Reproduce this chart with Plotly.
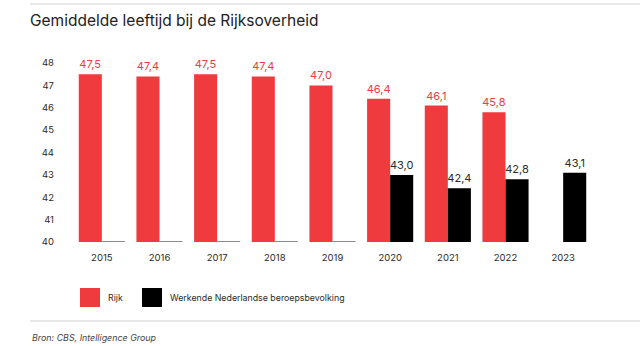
import plotly.graph_objects as go

years = ["2015", "2016", "2017", "2018", "2019", "2020", "2021", "2022", "2023"]
rijk = [47.5, 47.4, 47.5, 47.4, 47.0, 46.4, 46.1, 45.8, None]
werkend = [None, None, None, None, None, 43.0, 42.4, 42.8, 43.1]
y_ticks = [40, 41, 42, 43, 44, 45, 46, 47, 48]
BASE = 40

RED = "#EF3A3E"
BLACK = "#000000"
TXT = "#2b2b2b"
FONT = "Inter"

W, H = 640, 346
L, R, T, B = 73, 48, 63, 104


def px(x):
    return (x - L) / (W - L - R)


def py(y):
    return 1 - (y - T) / (H - T - B)


def fmt(v):
    return "" if v is None else f"{v:.1f}".replace(".", ",")


# heights above base; missing black values shown as a thin gray baseline
rijk_h = [None if v is None else v - BASE for v in rijk]
werk_h = [0.04 if v is None else v - BASE for v in werkend]
werk_col = ["#8a8a8a" if v is None else BLACK for v in werkend]

fig = go.Figure()
fig.add_bar(
    x=years, y=rijk_h, base=BASE, name="Rijk",
    marker=dict(color=RED, line=dict(width=0)),
    text=[fmt(v) for v in rijk], textposition="outside",
    textfont=dict(color=RED, size=11, family=FONT),
    cliponaxis=False, constraintext="none", showlegend=False,
)
fig.add_bar(
    x=years, y=werk_h, base=BASE, name="Werkende Nederlandse beroepsbevolking",
    marker=dict(color=werk_col, line=dict(width=0)),
    text=[fmt(v) for v in werkend], textposition="outside",
    textfont=dict(color=TXT, size=11, family=FONT),
    cliponaxis=False, constraintext="none", showlegend=False,
)

shapes = [
    dict(type="line", xref="paper", yref="paper", x0=px(30), x1=px(640), y0=py(4), y1=py(4),
         line=dict(color="#d0d0d0", width=1)),
    dict(type="line", xref="paper", yref="paper", x0=px(30), x1=px(640), y0=py(321), y1=py(321),
         line=dict(color="#d0d0d0", width=1)),
    dict(type="rect", xref="paper", yref="paper", x0=px(80), x1=px(100), y0=py(307), y1=py(288),
         fillcolor=RED, line=dict(width=0)),
    dict(type="rect", xref="paper", yref="paper", x0=px(142), x1=px(162), y0=py(307), y1=py(288),
         fillcolor=BLACK, line=dict(width=0)),
]
annotations = [
    dict(text="Rijk", xref="paper", yref="paper", x=px(106), y=py(297.5), xanchor="left",
         yanchor="middle", showarrow=False, font=dict(size=8.8, color=TXT, family=FONT)),
    dict(text="Werkende Nederlandse beroepsbevolking", xref="paper", yref="paper", x=px(168),
         y=py(297.5), xanchor="left", yanchor="middle", showarrow=False,
         font=dict(size=8.8, color=TXT, family=FONT)),
    dict(text="<i>Bron: CBS, Intelligence Group</i>", xref="paper", yref="paper", x=px(30),
         y=py(337), xanchor="left", yanchor="middle", showarrow=False,
         font=dict(size=8.9, color="#444444", family=FONT)),
]

fig.update_layout(
    width=W, height=H,
    margin=dict(l=L, r=R, t=T, b=B),
    paper_bgcolor="white", plot_bgcolor="white",
    barmode="group", bargap=0.2, bargroupgap=0,
    font=dict(family=FONT, color=TXT),
    title=dict(text="Gemiddelde leeftijd bij de Rijksoverheid", xref="container", yref="container",
               x=30 / W, y=1 - 20.5 / H, xanchor="left", yanchor="middle",
               font=dict(size=15.5, color="#222222", family=FONT)),
    shapes=shapes, annotations=annotations,
    xaxis=dict(showgrid=False, showline=False, ticks="", ticklabelstandoff=8,
               tickfont=dict(size=9.5, color=TXT)),
    yaxis=dict(range=[40, 48], tickvals=y_ticks, ticktext=[str(t) for t in y_ticks],
               showgrid=False, zeroline=False, showline=False, ticks="",
               ticklabelstandoff=18, tickfont=dict(size=9.5, color=TXT)),
)

fig.write_html("out.html")
